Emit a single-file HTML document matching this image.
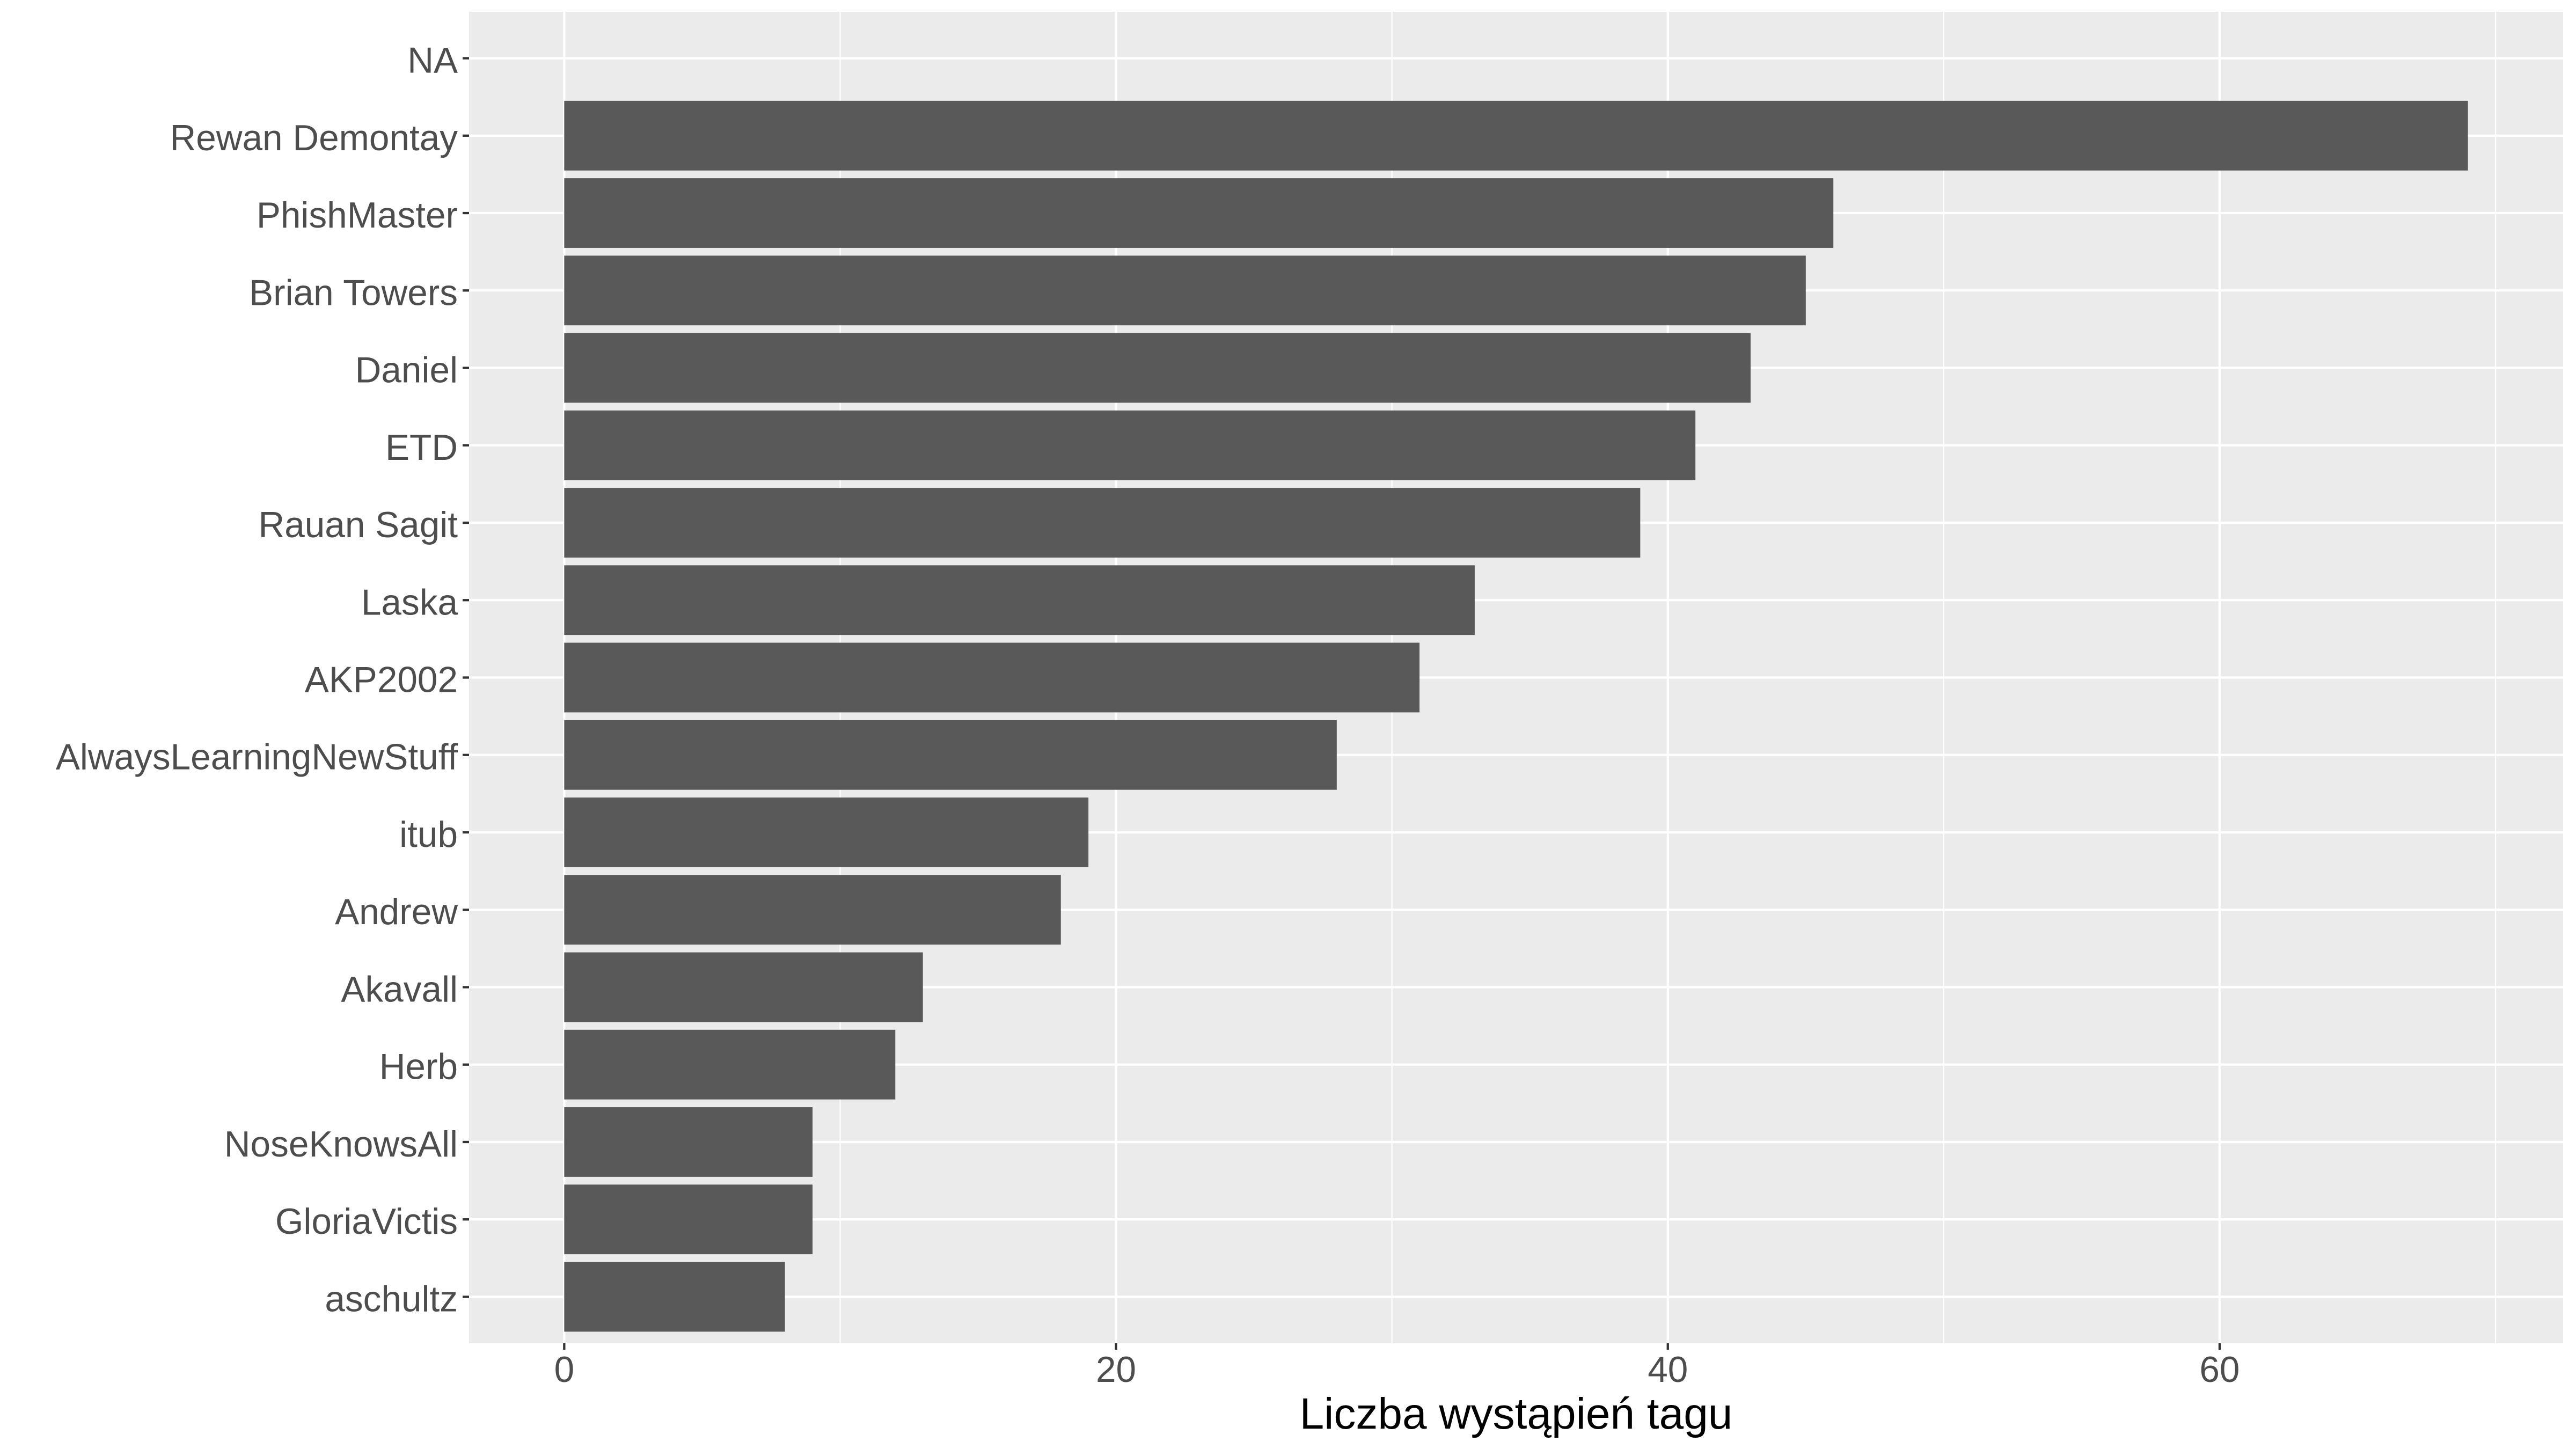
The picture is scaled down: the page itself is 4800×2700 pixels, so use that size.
<!DOCTYPE html>
<html><head><meta charset="utf-8"><style>html,body{margin:0;padding:0;background:#fff}svg{display:block}</style></head>
<body>
<svg id="chart" width="4800" height="2700" xmlns="http://www.w3.org/2000/svg" font-family="'Liberation Sans', sans-serif">
<rect width="4800" height="2700" fill="#fff"/>
<g id="plot"></g>
<text x="2825" y="2662" font-size="82" fill="#000" text-anchor="middle">Liczba wystąpień tagu</text>
</svg>
<script>
const categories = ["NA","Rewan Demontay","PhishMaster","Brian Towers","Daniel","ETD","Rauan Sagit","Laska","AKP2002","AlwaysLearningNewStuff","itub","Andrew","Akavall","Herb","NoseKnowsAll","GloriaVictis","aschultz"];
const values = [0,69,46,45,43,41,39,33,31,28,19,18,13,12,9,9,8];
const xTicks = [0,20,40,60];
const xMinor = [10,30,50,70];

const ns = "http://www.w3.org/2000/svg";
const L = 874, R = 4776, T = 22, B = 2503;
const xMin = -3.45, xMax = 72.45;
const xs = v => L + (v - xMin) / (xMax - xMin) * (R - L);
const step = (B - T) / (categories.length + 0.2);
const ys = i => T + (0.6 + i) * step;
const g = document.getElementById('plot');
function mk(tag, attrs) { const e = document.createElementNS(ns, tag); for (const k in attrs) e.setAttribute(k, attrs[k]); g.appendChild(e); return e; }

const panel = mk('rect', {x:L, y:T, width:R-L, height:B-T, fill:'#ebebeb'});


xMinor.forEach(v => {
  const l = mk('line', {x1:xs(v), x2:xs(v), y1:T, y2:B, stroke:'#fff', 'stroke-width':2.2});
  
  
});
xTicks.forEach(v => {
  const l = mk('line', {x1:xs(v), x2:xs(v), y1:T, y2:B, stroke:'#fff', 'stroke-width':4.3});
  
  
});
categories.forEach((c, i) => {
  const l = mk('line', {x1:L, x2:R, y1:ys(i), y2:ys(i), stroke:'#fff', 'stroke-width':4.3});
  
  
});
const bh = step * 0.9;
categories.forEach((c, i) => {
  if (values[i] > 0) {
    const r = mk('rect', {x:xs(0), y:ys(i)-bh/2, width:xs(values[i])-xs(0), height:bh, fill:'#595959'});
    
    
  }
  const t = mk('line', {x1:862, x2:L, y1:ys(i), y2:ys(i), stroke:'#333', 'stroke-width':4.3});
  
  
  const tx = mk('text', {x:853, y:ys(i)+27, 'font-size':67.5, fill:'#4d4d4d', 'text-anchor':'end'});
  tx.textContent = c;
  
  
});
xTicks.forEach(v => {
  const t = mk('line', {x1:xs(v), x2:xs(v), y1:B, y2:B+12, stroke:'#333', 'stroke-width':4.3});
  
  
  const tx = mk('text', {x:xs(v), y:2575, 'font-size':67.5, fill:'#4d4d4d', 'text-anchor':'middle'});
  tx.textContent = v;
  
  
});
</script>
</body></html>
